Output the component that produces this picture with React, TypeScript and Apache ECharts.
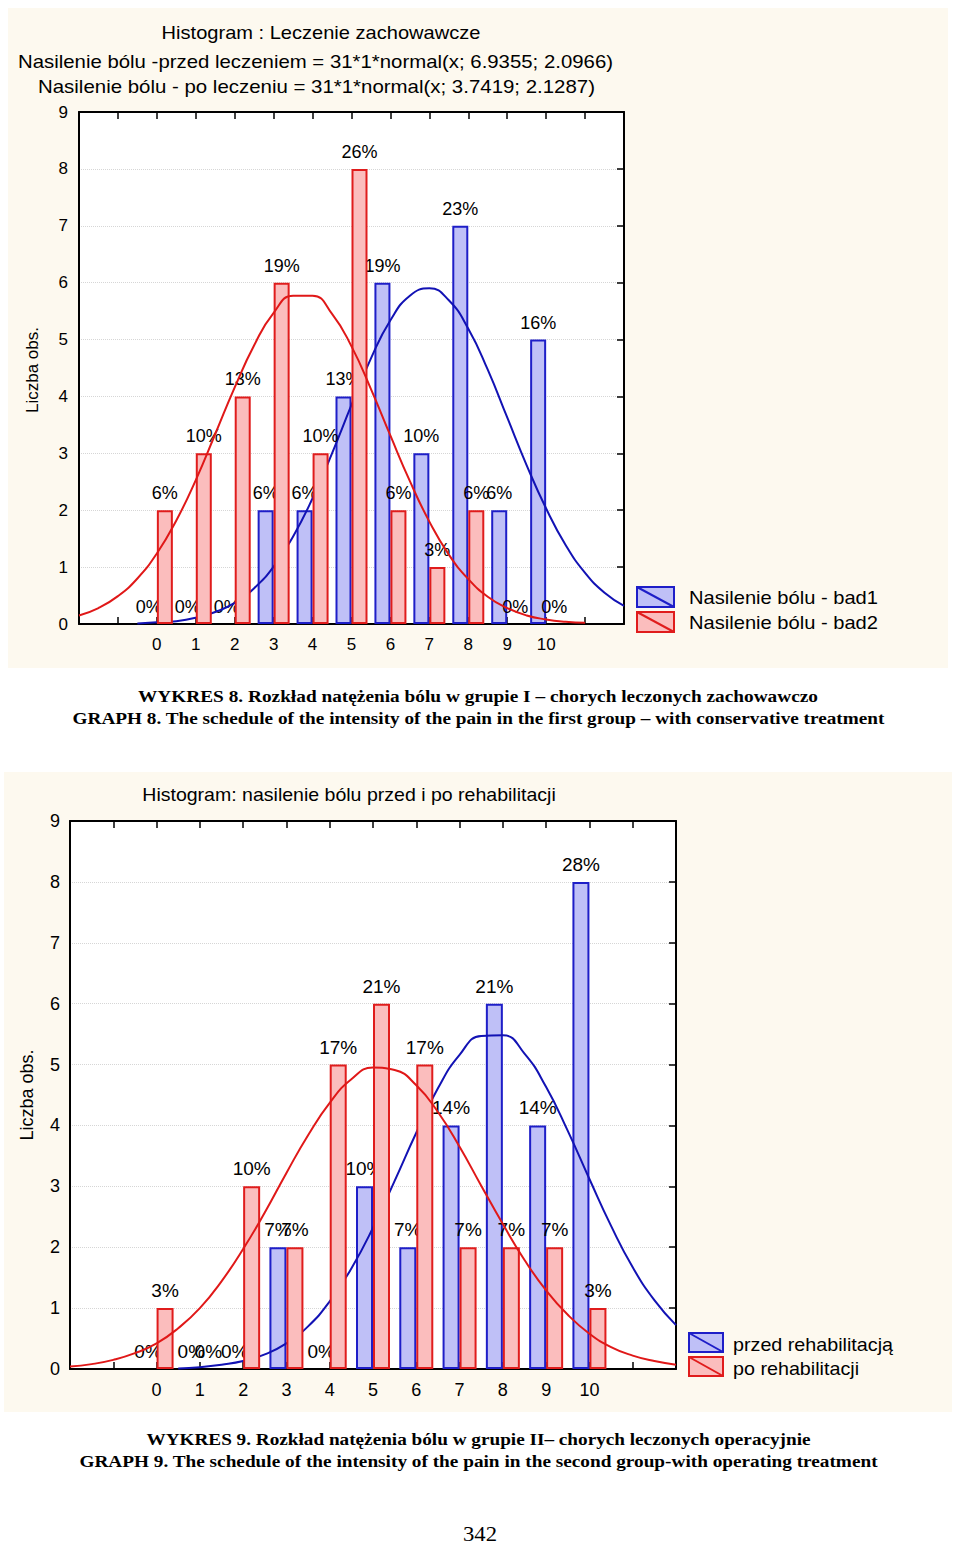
import React, { useEffect, useRef } from 'react';
import * as echarts from 'echarts';

// ---------- data ----------
const categories = [0, 1, 2, 3, 4, 5, 6, 7, 8, 9, 10];
const xTickLabels = ['0', '1', '2', '3', '4', '5', '6', '7', '8', '9', '10'];
const yTickLabels = ['0', '1', '2', '3', '4', '5', '6', '7', '8', '9'];

// Chart 1 (WYKRES 8) – counts per pain intensity
const g1N = 31;
const g1Before = [0, 0, 0, 2, 2, 4, 6, 3, 7, 2, 5];
const g1After = [2, 3, 4, 6, 3, 8, 2, 1, 2, 0, 0];

// Chart 2 (WYKRES 9)
const g2N = 29;
const g2Before = [0, 0, 0, 2, 0, 3, 2, 4, 6, 4, 8];
const g2After = [1, 0, 3, 2, 5, 6, 5, 2, 2, 2, 1];

// fitted curves at half-unit steps
const curveX = [-2, -1.5, -1, -0.5, 0, 0.5, 1, 1.5, 2, 2.5, 3, 3.5, 4, 4.5, 5, 5.5, 6, 6.5, 7, 7.5, 8, 8.5, 9, 9.5, 10, 10.5, 11, 11.5, 12];
const g1BeforeCurve = [null, null, null, 0.01, 0.03, 0.05, 0.11, 0.21, 0.37, 0.63, 1.01, 1.54, 2.21, 3.0, 3.85, 4.67, 5.34, 5.77, 5.9, 5.69, 5.19, 4.47, 3.63, 2.79, 2.03, 1.39, 0.9, 0.55, 0.32];
const g1AfterCurve = [0.15, 0.28, 0.49, 0.8, 1.24, 1.82, 2.53, 3.34, 4.16, 4.9, 5.47, 5.77, 5.77, 5.45, 4.88, 4.13, 3.31, 2.51, 1.8, 1.22, 0.79, 0.48, 0.28, 0.15, 0.08, 0.04, 0.02, null, null];
const g2BeforeCurve = [null, null, null, null, null, 0.01, 0.03, 0.07, 0.13, 0.24, 0.42, 0.7, 1.11, 1.65, 2.32, 3.09, 3.88, 4.61, 5.16, 5.47, 5.48, 5.18, 4.63, 3.91, 3.12, 2.35, 1.67, 1.13, 0.72];
const g2AfterCurve = [0.04, 0.08, 0.15, 0.26, 0.42, 0.67, 1.0, 1.44, 1.97, 2.57, 3.22, 3.84, 4.37, 4.76, 4.95, 4.91, 4.66, 4.22, 3.65, 3.01, 2.38, 1.79, 1.29, 0.89, 0.58, 0.36, 0.22, 0.13, 0.07];

// texts
const title1 = [
  'Histogram : Leczenie zachowawcze',
  'Nasilenie bólu -przed leczeniem = 31*1*normal(x; 6.9355; 2.0966)',
  'Nasilenie bólu - po leczeniu = 31*1*normal(x; 3.7419; 2.1287)',
];
const legend1 = ['Nasilenie bólu - bad1', 'Nasilenie bólu - bad2'];
const caption1 = [
  'WYKRES 8. Rozkład natężenia bólu w grupie I – chorych leczonych zachowawczo',
  'GRAPH 8. The schedule of the intensity of the pain in the first group – with conservative treatment',
];
const title2 = 'Histogram: nasilenie bólu przed i po rehabilitacji';
const legend2 = ['przed rehabilitacją', 'po rehabilitacji'];
const caption2 = [
  'WYKRES 9. Rozkład natężenia bólu w grupie II– chorych leczonych operacyjnie',
  'GRAPH 9. The schedule of the intensity of the pain in the second group-with operating treatment',
];
const yName = 'Liczba obs.';
const pageNumber = '342';

// ---------- styles ----------
const SANS = '"Liberation Sans", Arial, sans-serif';
const SERIF = '"Liberation Serif", "Times New Roman", serif';
const BLUE_FILL = '#bfc0f7';
const BLUE_EDGE = '#1e1ec8';
const BLUE_LINE = '#1212b4';
const RED_FILL = '#fbbdbd';
const RED_EDGE = '#e01c1c';
const RED_LINE = '#e01818';
const PANEL = '#fdf9ef';

let measureCtx: CanvasRenderingContext2D | null = null;
function textWidth(text: string, font: string): number {
  if (!measureCtx) measureCtx = document.createElement('canvas').getContext('2d');
  measureCtx!.font = font;
  return measureCtx!.measureText(text).width;
}
function fitText(text: string, x: number, y: number, width: number, size: number, family: string, weight: string, align: string, extra: any = {}) {
  const w = textWidth(text, `${weight} ${size}px ${family}`);
  return {
    type: 'text', x, y, z: 20, scaleX: width / w, ...extra,
    style: { text, fontSize: size, fontFamily: family, fontWeight: weight, fill: '#000', align, verticalAlign: 'middle' },
  };
}

function pct(v: number, n: number) {
  return Math.round((v / n) * 100) + '%';
}

type GridCfg = {
  gi: number; n: number; before: number[]; after: number[];
  beforeCurve: (number | null)[]; afterCurve: (number | null)[];
  barWidth: number; fontSize: number; labelDist: number;
};

function buildAxes(gi: number, fontSize: number, yLabelMargin: number) {
  const lineStyle = { color: '#000', width: 2 };
  const x = [
    {
      type: 'value', gridIndex: gi, position: 'bottom', min: -2, max: 12, interval: 1,
      axisLine: { show: true, onZero: false, lineStyle },
      axisTick: { show: true, inside: true, length: 7, lineStyle: { color: '#000', width: 1.5 } },
      axisLabel: {
        show: true, margin: 12, fontSize, fontFamily: SANS, color: '#000',
        formatter: (v: number) => (v >= 0 && v <= 10 ? xTickLabels[v] : ''),
      },
      splitLine: { show: false },
    },
    {
      type: 'value', gridIndex: gi, position: 'top', min: -2, max: 12, interval: 1,
      axisLine: { show: true, onZero: false, lineStyle },
      axisTick: { show: true, inside: true, length: 7, lineStyle: { color: '#000', width: 1.5 } },
      axisLabel: { show: false },
      splitLine: { show: false },
    },
  ];
  const y = [
    {
      type: 'value', gridIndex: gi, position: 'left', min: 0, max: 9, interval: 1,
      axisLine: { show: true, onZero: false, lineStyle },
      axisTick: { show: false },
      axisLabel: { show: true, margin: yLabelMargin, fontSize, fontFamily: SANS, color: '#000', formatter: (v: number) => yTickLabels[v] },
      splitLine: { show: true, lineStyle: { color: '#d6d6d6', type: 'dotted', width: 1 } },
    },
    {
      type: 'value', gridIndex: gi, position: 'right', min: 0, max: 9, interval: 1,
      axisLine: { show: true, onZero: false, lineStyle },
      axisTick: { show: true, inside: true, length: 7, lineStyle: { color: '#000', width: 1.5 } },
      axisLabel: { show: false },
      splitLine: { show: false },
    },
  ];
  return { x, y };
}

function buildSeries(c: GridCfg) {
  const ax = c.gi * 2;
  const label = {
    show: true, position: 'top', distance: c.labelDist, fontSize: c.fontSize, fontFamily: SANS, color: '#000',
    formatter: (p: any) => pct(p.value[1], c.n),
  };
  const barData = (vals: number[]) =>
    categories.map((cat, i) => (vals[i] === 0 ? { value: [cat, 0], itemStyle: { borderWidth: 0 } } : { value: [cat, vals[i]] }));
  const lineData = (vals: (number | null)[]) =>
    curveX.map((x, i) => [x, vals[i]]).filter((p) => p[1] !== null);
  return [
    {
      type: 'bar', xAxisIndex: ax, yAxisIndex: ax, z: 2, barWidth: c.barWidth, barGap: '0%',
      itemStyle: { color: BLUE_FILL, borderColor: BLUE_EDGE, borderWidth: 2 },
      label, data: barData(c.before),
    },
    {
      type: 'line', xAxisIndex: ax, yAxisIndex: ax, z: 3, smooth: 0.5, symbol: 'none',
      lineStyle: { color: BLUE_LINE, width: 2 }, data: lineData(c.beforeCurve),
    },
    {
      type: 'bar', xAxisIndex: ax, yAxisIndex: ax, z: 4, barWidth: c.barWidth, barGap: '0%',
      itemStyle: { color: RED_FILL, borderColor: RED_EDGE, borderWidth: 2 },
      label, data: barData(c.after),
    },
    {
      type: 'line', xAxisIndex: ax, yAxisIndex: ax, z: 5, smooth: 0.5, symbol: 'none',
      lineStyle: { color: RED_LINE, width: 2 }, data: lineData(c.afterCurve),
    },
  ];
}

function legendIcon(x: number, y: number, w: number, h: number, fill: string, stroke: string) {
  return [
    { type: 'rect', z: 20, shape: { x, y, width: w, height: h }, style: { fill, stroke, lineWidth: 2 } },
    { type: 'line', z: 21, shape: { x1: x, y1: y, x2: x + w, y2: y + h }, style: { stroke, lineWidth: 2 } },
  ];
}

function buildOption() {
  const a1 = buildAxes(0, 17, 11);
  const a2 = buildAxes(1, 18, 10);
  const s1 = buildSeries({ gi: 0, n: g1N, before: g1Before, after: g1After, beforeCurve: g1BeforeCurve, afterCurve: g1AfterCurve, barWidth: 16, fontSize: 18, labelDist: 8 });
  const s2 = buildSeries({ gi: 1, n: g2N, before: g2Before, after: g2After, beforeCurve: g2BeforeCurve, afterCurve: g2AfterCurve, barWidth: 17, fontSize: 19, labelDist: 8 });

  const leg1Scale = textWidth(legend1[0], `normal 18px ${SANS}`);
  const leg2Scale = textWidth(legend2[0], `normal 19px ${SANS}`);

  const graphic: any[] = [
    { type: 'rect', z: -10, shape: { x: 8, y: 8, width: 940, height: 660 }, style: { fill: PANEL } },
    { type: 'rect', z: -10, shape: { x: 4, y: 772, width: 948, height: 640 }, style: { fill: PANEL } },
    fitText(title1[0], 321, 33, 319, 18, SANS, 'normal', 'center'),
    fitText(title1[1], 315.5, 62, 595, 18, SANS, 'normal', 'center'),
    fitText(title1[2], 316.5, 87, 557, 18, SANS, 'normal', 'center'),
    { type: 'text', z: 20, x: 32, y: 370, rotation: Math.PI / 2, style: { text: yName, fontSize: 17, fontFamily: SANS, fill: '#000', align: 'center', verticalAlign: 'middle' } },
    ...legendIcon(637, 587, 37, 20, BLUE_FILL, BLUE_EDGE),
    ...legendIcon(637, 612, 37, 20, RED_FILL, RED_EDGE),
    { type: 'text', z: 20, x: 689, y: 598, scaleX: 189 / leg1Scale, style: { text: legend1[0], fontSize: 18, fontFamily: SANS, fill: '#000', align: 'left', verticalAlign: 'middle' } },
    { type: 'text', z: 20, x: 689, y: 623, scaleX: 189 / leg1Scale, style: { text: legend1[1], fontSize: 18, fontFamily: SANS, fill: '#000', align: 'left', verticalAlign: 'middle' } },
    fitText(caption1[0], 478, 696, 680, 17, SERIF, 'bold', 'center'),
    fitText(caption1[1], 478.5, 718, 813, 17, SERIF, 'bold', 'center'),

    fitText(title2, 349, 795, 414, 18, SANS, 'normal', 'center'),
    { type: 'text', z: 20, x: 27, y: 1095, rotation: Math.PI / 2, style: { text: yName, fontSize: 18, fontFamily: SANS, fill: '#000', align: 'center', verticalAlign: 'middle' } },
    ...legendIcon(689, 1333, 34, 19, BLUE_FILL, BLUE_EDGE),
    ...legendIcon(689, 1357, 34, 19, RED_FILL, RED_EDGE),
    { type: 'text', z: 20, x: 733, y: 1344, scaleX: 160 / leg2Scale, style: { text: legend2[0], fontSize: 19, fontFamily: SANS, fill: '#000', align: 'left', verticalAlign: 'middle' } },
    { type: 'text', z: 20, x: 733, y: 1368, scaleX: 160 / leg2Scale, style: { text: legend2[1], fontSize: 19, fontFamily: SANS, fill: '#000', align: 'left', verticalAlign: 'middle' } },
    fitText(caption2[0], 478.5, 1439, 665, 17, SERIF, 'bold', 'center'),
    fitText(caption2[1], 478.5, 1461, 799, 17, SERIF, 'bold', 'center'),
    fitText(pageNumber, 480, 1534, 34, 22, SERIF, 'normal', 'center'),
  ];

  return {
    animation: false,
    backgroundColor: '#ffffff',
    grid: [
      { left: 79, top: 112, width: 545, height: 512, show: true, backgroundColor: '#ffffff', borderWidth: 0, containLabel: false },
      { left: 70, top: 821, width: 606, height: 548, show: true, backgroundColor: '#ffffff', borderWidth: 0, containLabel: false },
    ],
    xAxis: [...a1.x, ...a2.x],
    yAxis: [...a1.y, ...a2.y],
    series: [...s1, ...s2],
    graphic,
  };
}

export default function App() {
  const ref = useRef<HTMLDivElement>(null);
  useEffect(() => {
    if (!ref.current) return;
    const chart = echarts.init(ref.current, null, { renderer: 'svg' });
    chart.setOption(buildOption() as any);
    return () => chart.dispose();
  }, []);
  return (
    <div
      ref={ref}
      style={{ position: 'absolute', left: 0, top: 0, width: 960, height: 1546, background: '#fff' }}
    />
  );
}
